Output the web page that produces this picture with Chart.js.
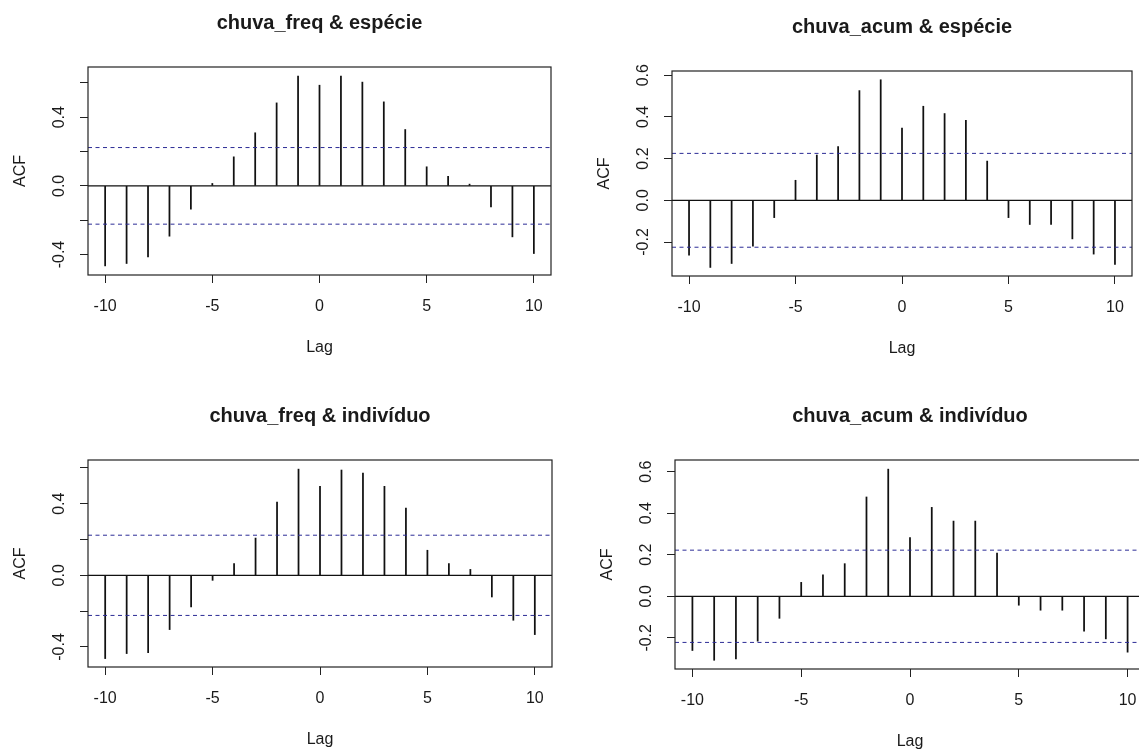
<!DOCTYPE html>
<html><head><meta charset="utf-8">
<script src="https://cdn.jsdelivr.net/npm/chart.js@4.4.1/dist/chart.umd.min.js"></script>
<style>
html,body{margin:0;padding:0;background:#fff;width:1139px;height:749px;overflow:hidden;position:relative}
canvas{position:absolute}
</style></head><body>
<canvas id="c1"></canvas><canvas id="c2"></canvas><canvas id="c3"></canvas><canvas id="c4"></canvas>
<script>
// ---- data ----
const lags = [-10,-9,-8,-7,-6,-5,-4,-3,-2,-1,0,1,2,3,4,5,6,7,8,9,10];
const acfFreqEspecie   = [-0.466,-0.452,-0.414,-0.293,-0.136,0.014,0.169,0.309,0.483,0.639,0.586,0.639,0.604,0.489,0.328,0.111,0.056,0.010,-0.122,-0.297,-0.394];
const acfAcumEspecie   = [-0.263,-0.322,-0.303,-0.220,-0.083,0.096,0.217,0.257,0.526,0.578,0.346,0.451,0.416,0.384,0.188,-0.083,-0.116,-0.116,-0.185,-0.258,-0.308];
const acfFreqIndividuo = [-0.465,-0.437,-0.432,-0.303,-0.177,-0.028,0.065,0.208,0.409,0.593,0.497,0.588,0.571,0.497,0.376,0.140,0.065,0.033,-0.121,-0.251,-0.331];
const acfAcumIndividuo = [-0.261,-0.308,-0.301,-0.216,-0.106,0.067,0.103,0.157,0.478,0.612,0.282,0.428,0.362,0.362,0.208,-0.043,-0.067,-0.067,-0.168,-0.205,-0.269];
const ciLimits = [0.223, 0.225, 0.224, 0.222];
const titles = ['chuva_freq & espécie','chuva_acum & espécie','chuva_freq & indivíduo','chuva_acum & indivíduo'];
const xLimits = [-10.8, 10.8];
const yLimits = [[-0.519,0.692],[-0.363,0.620],[-0.512,0.644],[-0.350,0.656]];
const yLabelsLeft  = [-0.4, 0.0, 0.4];
const yLabelsRight = [-0.2, 0.0, 0.2, 0.4, 0.6];
const xTickStep = 5, yTickStep = 0.2;
const xAxisTitle = 'Lag', yAxisTitle = 'ACF';

// ---- layout (plot box in page pixels) ----
const boxes = [
  {L:88, T:67, R:551, B:275},
  {L:672, T:71, R:1132, B:276},
  {L:88, T:460, R:552, B:667},
  {L:675, T:460, R:1145, B:669}
];
const FONT = '"Liberation Sans", Arial, Helvetica, sans-serif';
const INK = '#1a1a1a';
const YW = 80, XH = 90;
Chart.defaults.font.family = FONT;
Chart.defaults.font.size = 16;
Chart.defaults.color = INK;

const boxPlugin = {
  id: 'rbox',
  afterDraw(chart) {
    const {ctx, chartArea: a} = chart;
    ctx.save();
    ctx.strokeStyle = '#222'; ctx.lineWidth = 1.2;
    ctx.strokeRect(a.left, a.top, a.right - a.left, a.bottom - a.top);
    ctx.fillStyle = INK;
    ctx.font = 'bold 20px ' + FONT;
    ctx.textAlign = 'center'; ctx.textBaseline = 'alphabetic';
    ctx.fillText(chart.options.plugins.rbox.text, (a.left + a.right) / 2, a.top - 38);
    ctx.restore();
  }
};

const series = [acfFreqEspecie, acfAcumEspecie, acfFreqIndividuo, acfAcumIndividuo];
series.forEach((vals, i) => {
  const b = boxes[i];
  const cv = document.getElementById('c' + (i + 1));
  const left = b.L - YW - 8, top = b.T - 67;
  const width = b.R - left + 10, height = b.B + XH + 7 - top;
  cv.width = width; cv.height = height;
  cv.style.left = left + 'px'; cv.style.top = top + 'px';
  cv.style.width = width + 'px'; cv.style.height = height + 'px';
  const labelled = (i % 2 === 0) ? yLabelsLeft : yLabelsRight;
  const ci = ciLimits[i];
  const tickGrid = {display: true, offset: false, drawOnChartArea: false, drawTicks: true, tickLength: 8, tickColor: '#222', tickWidth: 1};
  new Chart(cv, {
    type: 'bar',
    data: {
      datasets: [
        {type: 'line', data: xLimits.map(x => ({x, y: ci})), borderColor: '#2c2c96', borderWidth: 1, borderDash: [4, 3.5], pointRadius: 0, order: 1},
        {type: 'line', data: xLimits.map(x => ({x, y: -ci})), borderColor: '#2c2c96', borderWidth: 1, borderDash: [4, 3.5], pointRadius: 0, order: 1},
        {type: 'line', data: xLimits.map(x => ({x, y: 0})), borderColor: '#111', borderWidth: 1.2, pointRadius: 0, order: 2},
        {type: 'bar', data: lags.map((x, k) => ({x, y: vals[k]})), backgroundColor: '#111', borderWidth: 0, barThickness: 1.1, order: 3}
      ]
    },
    options: {
      responsive: false, animation: false, events: [],
      layout: {padding: {left: 8, top: b.T - top, right: 10, bottom: 7}},
      plugins: {legend: {display: false}, tooltip: {enabled: false}, rbox: {text: titles[i]}},
      scales: {
        x: {
          type: 'linear', min: xLimits[0], max: xLimits[1], offset: false,
          afterFit(s) { s.height = XH; },
          border: {display: false}, grid: tickGrid,
          ticks: {stepSize: xTickStep, includeBounds: false, autoSkip: false, maxRotation: 0, padding: 14, color: INK, font: {size: 16}},
          title: {display: true, text: xAxisTitle, color: INK, font: {size: 16}, padding: {top: 0, bottom: 7.5}}
        },
        y: {
          type: 'linear', min: yLimits[i][0], max: yLimits[i][1],
          afterFit(s) { s.width = YW; },
          border: {display: false}, grid: tickGrid,
          ticks: {
            stepSize: yTickStep, includeBounds: false, autoSkip: false, minRotation: 90, maxRotation: 90,
            crossAlign: 'center', padding: 7, color: INK, font: {size: 16},
            callback: v => labelled.some(l => Math.abs(l - v) < 1e-9) ? v.toFixed(1) : ''
          },
          title: {display: true, text: yAxisTitle, color: INK, font: {size: 16}, padding: {top: 3.4, bottom: 0}}
        }
      }
    },
    plugins: [boxPlugin]
  });
});
</script>
</body></html>
